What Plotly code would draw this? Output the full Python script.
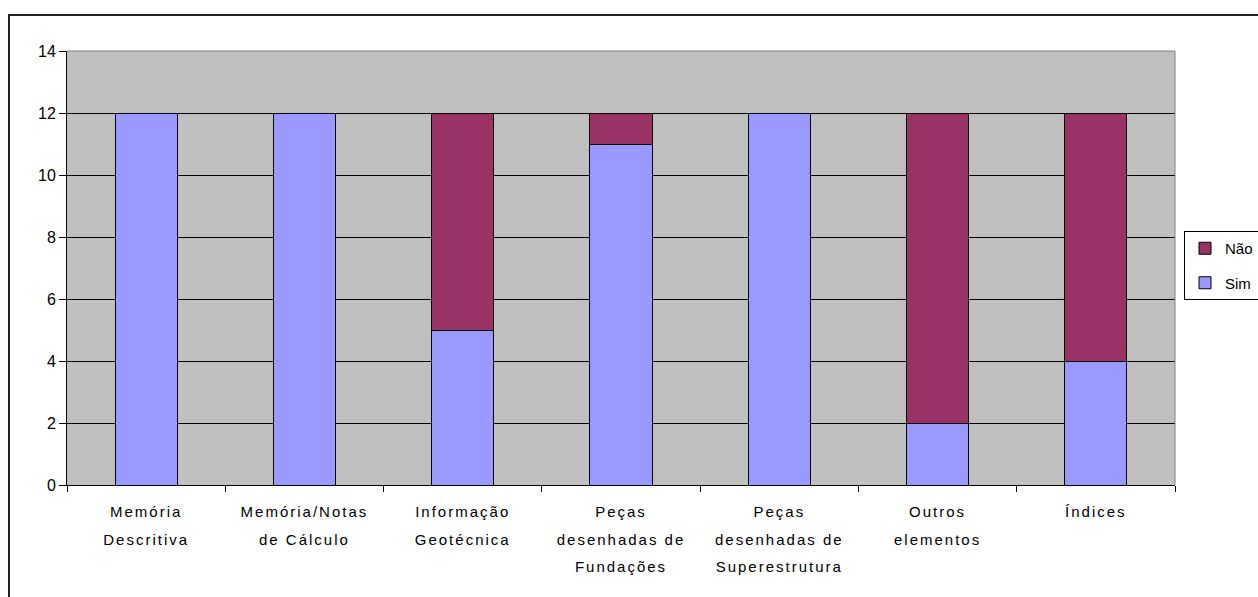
import plotly.graph_objects as go

# Categories (line breaks mark where each axis label wraps)
categories = [
    "Memória\nDescritiva",
    "Memória/Notas\nde Cálculo",
    "Informação\nGeotécnica",
    "Peças\ndesenhadas de\nFundações",
    "Peças\ndesenhadas de\nSuperestrutura",
    "Outros\nelementos",
    "Índices",
]
sim = [12, 12, 5, 11, 12, 2, 4]
nao = [0, 0, 7, 1, 0, 10, 8]
y_ticks = [0, 2, 4, 6, 8, 10, 12, 14]

W, H = 1258, 597
L, R, T, B = 67, 83, 51, 112
FONT = "Liberation Sans, Arial, sans-serif"


def px_x(px):
    return (px - L) / (W - L - R)


def px_y(py):
    return (H - B - py) / (H - T - B)


def fmt_label(s):
    # wide line pitch from the outer font size, glyphs drawn smaller in spans
    return "<br>".join(
        f"<span style='font-size:15px;letter-spacing:2px'>{ln}</span>"
        for ln in s.split("\n")
    )


fig = go.Figure()
fig.add_trace(go.Bar(
    x=categories, y=sim, name="Sim", legendgroup="sim", legendrank=2,
    marker=dict(color="#9999FF", line=dict(color="black", width=1)),
))
fig.add_trace(go.Bar(
    x=categories, y=nao, name="Não", legendgroup="nao", legendrank=1,
    marker=dict(color="#993366", line=dict(color="black", width=1)),
))

fig.update_layout(
    width=W, height=H,
    margin=dict(l=L, r=R, t=T, b=B, autoexpand=False),
    paper_bgcolor="white",
    plot_bgcolor="#C0C0C0",
    barmode="stack",
    bargap=0.608,
    font=dict(family=FONT, color="black", size=15),
    showlegend=True,
    legend=dict(
        x=px_x(1184), y=px_y(231), xanchor="left", yanchor="top",
        bgcolor="white", bordercolor="black", borderwidth=1,
        traceorder="grouped", tracegroupgap=12,
        entrywidth=70, entrywidthmode="pixels",
        font=dict(family=FONT, size=15, color="black"),
    ),
    xaxis=dict(
        tickmode="array", tickvals=categories,
        ticktext=[fmt_label(c) for c in categories],
        tickfont=dict(family=FONT, size=21, color="black"),
        ticks="outside", tickson="boundaries", ticklen=6,
        tickcolor="black", tickwidth=1, ticklabelstandoff=6,
        showline=True, linecolor="black", linewidth=1,
        showgrid=False, zeroline=False,
    ),
    yaxis=dict(
        range=[0, 14], tickmode="array", tickvals=y_ticks,
        tickfont=dict(family=FONT, size=16, color="black"),
        ticks="outside", ticklen=7, tickcolor="black", tickwidth=1,
        showline=True, linecolor="black", linewidth=1,
        showgrid=True, gridcolor="black", gridwidth=1,
        zeroline=False,
    ),
    shapes=[
        # grey frame on the top and right edges of the plot area
        dict(type="path", xref="paper", yref="paper",
             path="M 0,1 L 1,1 L 1,0",
             line=dict(color="#808080", width=1), layer="above"),
        # outer chart frame
        dict(type="rect", xref="paper", yref="paper",
             x0=px_x(9), y0=px_y(620), x1=px_x(1300), y1=px_y(15),
             line=dict(color="#202020", width=2), layer="above"),
    ],
)

fig.write_html("out.html")
